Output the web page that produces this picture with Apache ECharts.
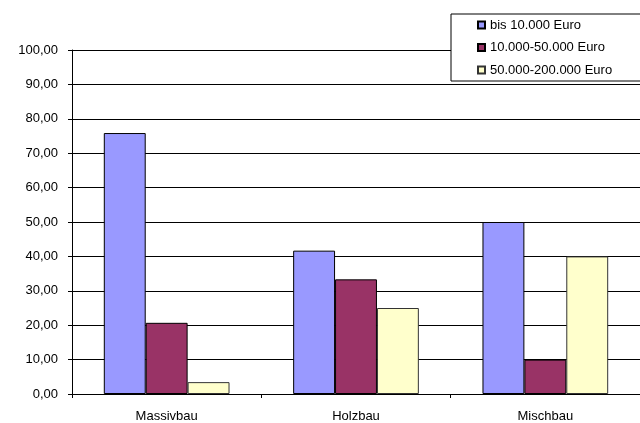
<!DOCTYPE html>
<html>
<head>
<meta charset="utf-8">
<script src="https://cdn.jsdelivr.net/npm/echarts@6/dist/echarts.min.js"></script>
<style>
html,body{margin:0;padding:0;background:#fff;}
#chart{width:640px;height:423px;}
</style>
</head>
<body>
<div id="chart"></div>
<script>
var categories = ['Massivbau', 'Holzbau', 'Mischbau'];
var seriesNames = ['bis 10.000 Euro', '10.000-50.000 Euro', '50.000-200.000 Euro'];
var bis10k = [75.86, 41.67, 50.00];
var from10kTo50k = [20.69, 33.33, 10.00];
var from50kTo200k = [3.45, 25.00, 40.00];
var colors = ['#9999FF', '#993366', '#FFFFCC'];
var borderColors = ['#000000', '#000000', '#333333'];
var yTicks = { min: 0, max: 100, interval: 10 };

var values = [bis10k, from10kTo50k, from50kTo200k];
var font = '"Liberation Sans", Arial, sans-serif';

var chart = echarts.init(document.getElementById('chart'), null, {renderer: 'canvas'});
chart.setOption({
  animation: false,
  backgroundColor: '#ffffff',
  textStyle: { fontFamily: font },
  grid: { left: 72, right: 0, top: 50, bottom: 29, containLabel: false },
  legend: {
    orient: 'vertical',
    left: 451,
    top: 14,
    icon: 'rect',
    itemWidth: 7,
    itemHeight: 7,
    itemGap: 8.5,
    padding: [4, 45, 4, 26],
    backgroundColor: '#ffffff',
    borderColor: '#000000',
    borderWidth: 1,
    textStyle: { fontSize: 13, color: '#000', fontFamily: font, lineHeight: 14 },
    data: seriesNames
  },
  xAxis: {
    type: 'category',
    data: categories,
    axisLine: { lineStyle: { color: '#000', width: 1 } },
    axisTick: { show: true, length: 4, lineStyle: { color: '#000' } },
    axisLabel: { fontSize: 13, color: '#000', margin: 16, fontFamily: font },
    splitLine: { show: false }
  },
  yAxis: {
    type: 'value',
    min: yTicks.min,
    max: yTicks.max,
    interval: yTicks.interval,
    axisLine: { show: true, lineStyle: { color: '#000', width: 1 } },
    axisTick: { show: true, length: 4, lineStyle: { color: '#000' } },
    axisLabel: {
      fontSize: 13, color: '#000', margin: 14, fontFamily: font,
      formatter: function (v) { return v.toFixed(2).replace('.', ','); }
    },
    splitLine: { show: true, lineStyle: { color: '#000', width: 1 } }
  },
  series: seriesNames.map(function (name, i) {
    return {
      name: name,
      type: 'bar',
      data: values[i],
      barGap: '0%',
      barCategoryGap: '33.6%',
      itemStyle: { color: colors[i], borderColor: borderColors[i], borderWidth: 1 },
      emphasis: { disabled: true }
    };
  })
});
</script>
</body>
</html>
